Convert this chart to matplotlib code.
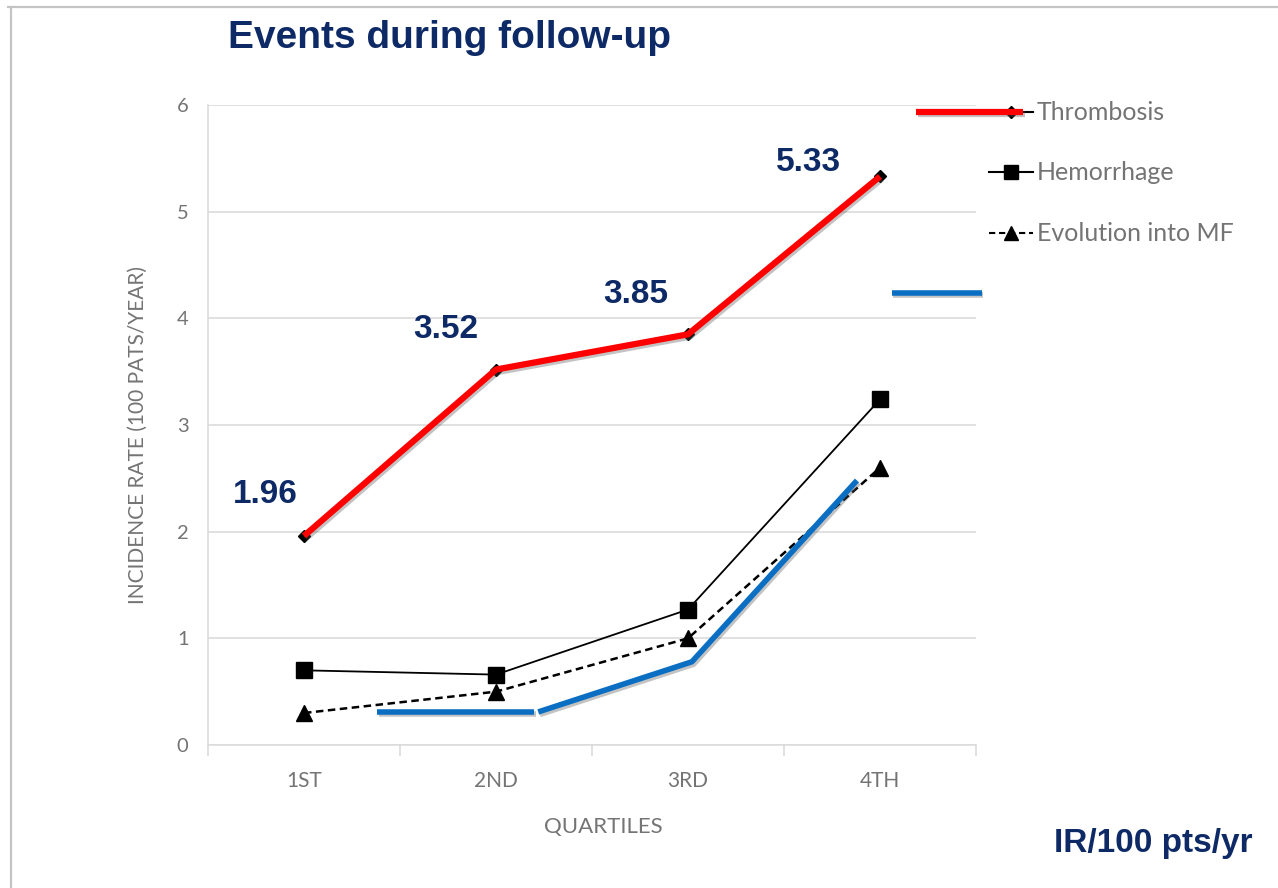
import matplotlib
matplotlib.use("Agg")
import matplotlib.pyplot as plt
from matplotlib.lines import Line2D
import matplotlib.patheffects as pe

# Data
quartiles = ["1ST", "2ND", "3RD", "4TH"]
thrombosis = [1.96, 3.52, 3.85, 5.33]
hemorrhage = [0.70, 0.66, 1.27, 3.24]
evolution_mf = [0.30, 0.50, 1.00, 2.60]
thrombosis_labels = ["1.96", "3.52", "3.85", "5.33"]

# Blue highlight trace drawn across the lower series (x in category units)
blue_a_x = [0.38, 1.20]
blue_a_y = [0.31, 0.31]
blue_b_x = [1.22, 2.02, 2.88]
blue_b_y = [0.31, 0.78, 2.48]
blue_key_x = [3.06, 3.53]
blue_key_y = [4.24, 4.24]

NAVY = "#0d2a66"
GRAY_TXT = "#747474"
GRID = "#dcdcdc"
RED = "#ff0000"
BLUE = "#0a6fc2"

plt.rcParams["font.family"] = ["Lato", "DejaVu Sans"]

fig = plt.figure(figsize=(12.78, 8.88), dpi=100)
fig.patch.set_facecolor("white")

# slide frame (top and left edges)
fig.add_artist(Line2D([8 / 1278, 1.0], [1 - 7 / 888, 1 - 7 / 888],
                      transform=fig.transFigure, color="#c4c4c4", lw=1.6))
fig.add_artist(Line2D([10.5 / 1278, 10.5 / 1278], [0, 1 - 7 / 888],
                      transform=fig.transFigure, color="#c4c4c4", lw=1.6))

ax = fig.add_axes([208 / 1278, 1 - 745 / 888, 768 / 1278, 640 / 888])
x = list(range(len(quartiles)))

ax.set_xlim(-0.5, 3.5)
ax.set_ylim(0, 6)
ax.set_yticks(range(0, 7))
ax.grid(axis="y", color=GRID, lw=1.2)
ax.set_axisbelow(True)
for s in ["top", "right"]:
    ax.spines[s].set_visible(False)
ax.spines["left"].set_color(GRID)
ax.spines["bottom"].set_color(GRID)
ax.spines["left"].set_linewidth(1.2)
ax.spines["bottom"].set_linewidth(1.2)

# category labels centred, tick marks on category boundaries
ax.set_xticks(x)
ax.set_xticklabels(quartiles)
ax.set_xticks([-0.5, 0.5, 1.5, 2.5, 3.5], minor=True)
ax.tick_params(axis="x", which="major", length=0, pad=19, labelsize=15,
               labelcolor=GRAY_TXT)
ax.tick_params(axis="x", which="minor", length=8, color=GRID, width=1.2)
ax.tick_params(axis="y", length=0, pad=14, labelsize=14.5, labelcolor=GRAY_TXT)

ax.set_ylabel("INCIDENCE RATE (100 PATS/YEAR)", fontsize=15, color=GRAY_TXT)
ax.yaxis.set_label_coords(-0.078, 0.484)

shadow = [pe.SimpleLineShadow(offset=(1.2, -1.8), shadow_color="#555555",
                              alpha=0.35), pe.Normal()]

# series
ax.plot(x, evolution_mf, color="black", lw=1.8, ls=(0, (3, 1.8)),
        marker="^", ms=11, zorder=3)
ax.plot(x, hemorrhage, color="black", lw=1.3, marker="s", ms=11, zorder=3)
ax.plot(x, thrombosis, color="black", lw=1.3, marker="D", ms=6, zorder=3)
ax.plot(x, thrombosis, color=RED, lw=4.5, solid_capstyle="butt", zorder=4,
        path_effects=shadow)

# blue highlight trace
ax.plot(blue_a_x, blue_a_y, color=BLUE, lw=4, solid_capstyle="butt", zorder=5,
        path_effects=shadow)
ax.plot(blue_b_x, blue_b_y, color=BLUE, lw=4, solid_capstyle="butt", zorder=5,
        path_effects=shadow)
ax.plot(blue_key_x, blue_key_y, color=BLUE, lw=4, solid_capstyle="butt",
        zorder=5, clip_on=False, path_effects=shadow)

# value labels above the thrombosis line
label_offsets = [(-0.20, 0.39), (-0.26, 0.38), (-0.27, 0.37), (-0.37, 0.13)]
for xi, yi, txt, (dx, dy) in zip(x, thrombosis, thrombosis_labels, label_offsets):
    ax.text(xi + dx, yi + dy, txt, ha="center", va="center", fontsize=24,
            fontweight="bold", color=NAVY, family=["Liberation Sans"])

# legend, drawn in figure pixels
def fx(px):
    return px / 1278

def fy(py):
    return 1 - py / 888

leg = [
    ("Thrombosis", 112, "-", "D", 6),
    ("Hemorrhage", 172, "-", "s", 10),
    ("Evolution into MF", 233, (0, (3, 1.8)), "^", 10),
]
for name, py, ls, mk, ms in leg:
    fig.add_artist(Line2D([fx(989), fx(1033)], [fy(py), fy(py)],
                          transform=fig.transFigure, color="black", lw=1.5,
                          ls=ls))
    fig.add_artist(Line2D([fx(1011)], [fy(py)], transform=fig.transFigure,
                          color="black", marker=mk, ms=ms, ls="none"))
    fig.text(fx(1037), fy(py), name, fontsize=18, color=GRAY_TXT,
             ha="left", va="center")
fig.add_artist(Line2D([fx(916), fx(1023)], [fy(112), fy(112)],
                      transform=fig.transFigure, color=RED, lw=4.5,
                      solid_capstyle="butt", path_effects=shadow))

fig.text(fx(603), fy(827), "QUARTILES", fontsize=16, color=GRAY_TXT,
         ha="center", va="center")

fig.text(fx(228), fy(38), "Events during follow-up", fontsize=28,
         fontweight="bold", color=NAVY, ha="left", va="center",
         family=["Liberation Sans"])
fig.text(fx(1253), fy(843), "IR/100 pts/yr", fontsize=24, fontweight="bold",
         color=NAVY, ha="right", va="center", family=["Liberation Sans"])

fig.savefig("out.png", dpi=100, facecolor="white")
